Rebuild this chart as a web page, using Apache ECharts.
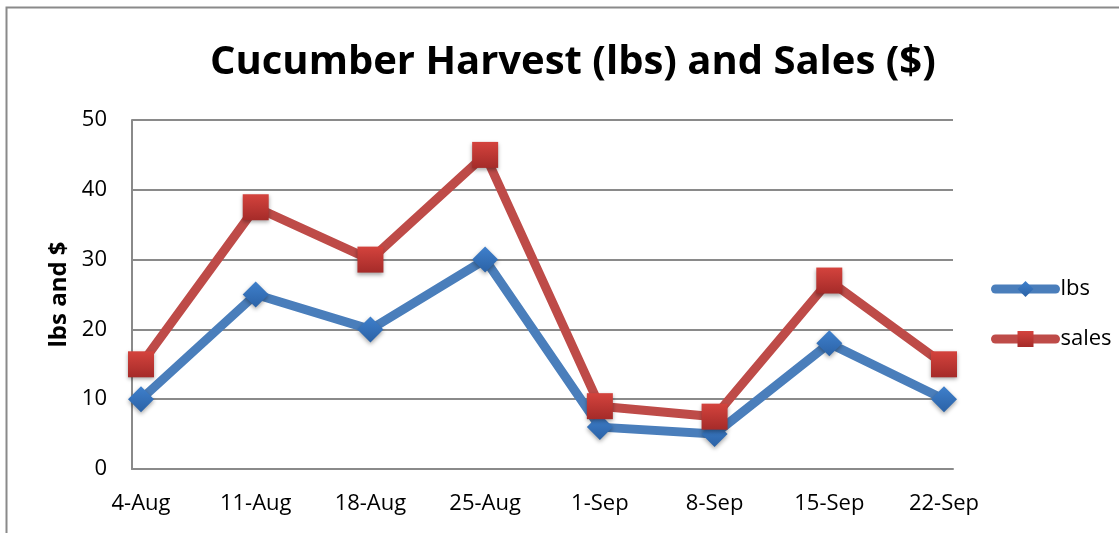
<!DOCTYPE html>
<html>
<head>
<meta charset="utf-8">
<script src="https://cdn.jsdelivr.net/npm/echarts@6/dist/echarts.min.js"></script>
<style>
  body { margin: 0; background: #fff; }
  #main { width: 1119px; height: 533px; }
</style>
</head>
<body>
<div id="main"></div>
<script>
// chart data
var weeks = ['4-Aug', '11-Aug', '18-Aug', '25-Aug', '1-Sep', '8-Sep', '15-Sep', '22-Sep'];
var lbs = [10, 25, 20, 30, 6, 5, 18, 10];
var sales = [15, 37.5, 30, 45, 9, 7.5, 27, 15];
var yTicks = [0, 10, 20, 30, 40, 50];

var font = '"Open Sans", "Liberation Sans", sans-serif';
var blue = '#4a7ebb';
var red = '#be4b48';

function grad(top, bottom) {
    return new echarts.graphic.LinearGradient(0, 0, 0, 1, [
        { offset: 0, color: top },
        { offset: 1, color: bottom }
    ]);
}

var myChart = echarts.init(document.getElementById('main'));

var option = {
    animation: false,
    title: {
        text: 'Cucumber Harvest (lbs) and Sales ($)',
        left: 205,
        top: 38,
        textStyle: { fontFamily: font, fontWeight: 'bold', fontSize: 40, color: '#000' }
    },
    legend: {
        left: 986,
        top: 273,
        orient: 'vertical',
        itemWidth: 60,
        itemHeight: 20,
        itemGap: 28,
        lineStyle: { width: 9, cap: 'round' },
        textStyle: { fontFamily: font, fontSize: 22, color: '#000' },
        data: ['lbs', 'sales']
    },
    graphic: [{
        type: 'polyline',
        shape: { points: [[6.5, 533], [6.5, 7.5], [1119, 7.5]] },
        style: { stroke: '#8a8a8a', lineWidth: 2, fill: null }
    }],
    grid: [
        { left: 132, top: 120, width: 821, height: 349 },
        { left: 141, top: 120, width: 803, height: 349 }
    ],
    xAxis: [
        {
            gridIndex: 0, type: 'category', data: weeks, boundaryGap: false,
            axisLine: { lineStyle: { color: '#8a8a8a', width: 2 } },
            axisTick: { show: false }, axisLabel: { show: false }, splitLine: { show: false }
        },
        {
            gridIndex: 1, type: 'category', data: weeks, boundaryGap: false,
            axisLine: { show: false }, axisTick: { show: false },
            axisLabel: { margin: 24, fontFamily: font, fontSize: 22, color: '#000' }
        }
    ],
    yAxis: [
        {
            gridIndex: 0, type: 'value', min: yTicks[0], max: yTicks[yTicks.length - 1], interval: 10,
            name: 'lbs and $', nameLocation: 'middle', nameGap: 61,
            nameTextStyle: { fontFamily: font, fontWeight: 'bold', fontSize: 24, color: '#000' },
            axisLine: { show: true, lineStyle: { color: '#8a8a8a', width: 2 } },
            axisTick: { show: false },
            axisLabel: { margin: 25, fontFamily: font, fontSize: 22, color: '#000' },
            splitLine: { lineStyle: { color: '#8a8a8a', width: 2 } }
        },
        {
            gridIndex: 1, type: 'value', min: 0, max: 50, show: false
        }
    ],
    series: [
        {
            name: 'lbs', type: 'line', data: lbs, xAxisIndex: 1, yAxisIndex: 1,
            symbol: 'diamond', symbolSize: 26,
            lineStyle: { color: blue, width: 9 },
            itemStyle: {
                color: grad('#3f80cc', '#2b62a6'), opacity: 1,
                shadowBlur: 4, shadowOffsetY: 2, shadowColor: 'rgba(0,0,0,0.35)'
            }
        },
        {
            name: 'sales', type: 'line', data: sales, xAxisIndex: 1, yAxisIndex: 1,
            symbol: 'rect', symbolSize: 26,
            lineStyle: { color: red, width: 9 },
            itemStyle: {
                color: grad('#d4433d', '#a52b29'), opacity: 1,
                shadowBlur: 4, shadowOffsetY: 2, shadowColor: 'rgba(0,0,0,0.35)'
            }
        }
    ]
};

myChart.setOption(option);
</script>
</body>
</html>
